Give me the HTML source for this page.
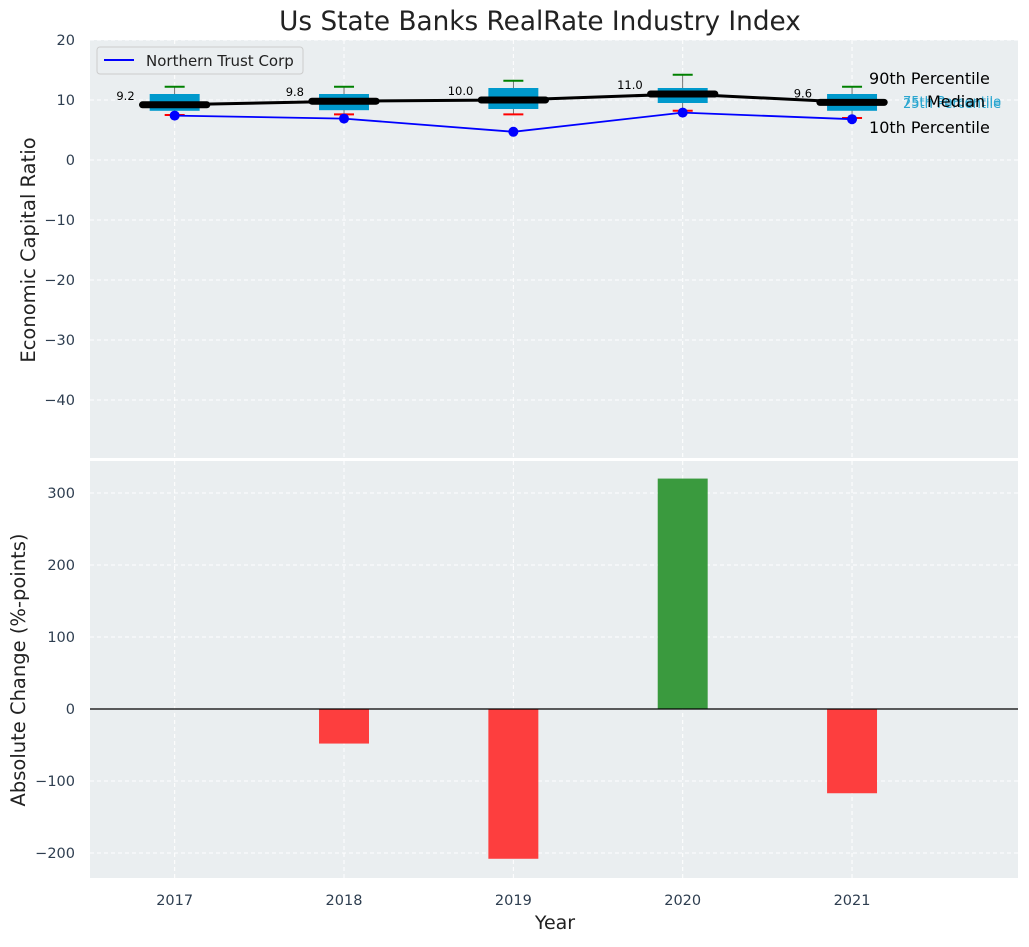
<!DOCTYPE html>
<html><head><meta charset="utf-8"><style>
body{margin:0;background:#fff;font-family:"Liberation Sans","DejaVu Sans",sans-serif}
svg text{font-family:"DejaVu Sans","Liberation Sans",sans-serif}
</style></head><body>
<svg id="c" width="1029" height="942" xmlns="http://www.w3.org/2000/svg"></svg>
<script>
const years=[2017,2018,2019,2020,2021];
const medians=[9.2,9.8,10.0,11.0,9.6];
const q1=[8.2,8.3,8.5,9.5,8.2];
const q3=[11,11,12,12,11];
const p10=[7.5,7.6,7.6,8.2,7.0];
const p90=[12.2,12.2,13.2,14.2,12.2];
const company=[7.4,6.9,4.7,7.9,6.8];
const changes=[0,-48,-208,320,-117];
const topTicks=[20,10,0,-10,-20,-30,-40];
const botTicks=[300,200,100,0,-100,-200];
const NS='http://www.w3.org/2000/svg';
const svg=document.getElementById('c');
function el(t,a,txt){const e=document.createElementNS(NS,t);for(const k in a)e.setAttribute(k,a[k]);if(txt!==undefined)e.textContent=txt;svg.appendChild(e);return e;}
const L=90,R=1018;
const x=v=>L+(v-2016.5)/(2021.98-2016.5)*(R-L);
const T0=40,T1=458,yT=v=>T0+(20-v)/(20+49.67)*(T1-T0);
const B0=461,B1=878,yB=v=>B0+(344.4-v)/(344.4+234.7)*(B1-B0);
let e=el('rect',{x:L,y:T0,width:R-L,height:T1-T0,fill:'#eaeef0'});

e=el('rect',{x:L,y:B0,width:R-L,height:B1-B0,fill:'#eaeef0'});

years.forEach(yr=>{el('line',{x1:x(yr),x2:x(yr),y1:T0,y2:T1,stroke:'#fff','stroke-dasharray':'4,3','stroke-width':1});el('line',{x1:x(yr),x2:x(yr),y1:B0,y2:B1,stroke:'#fff','stroke-dasharray':'4,3','stroke-width':1});
 e=el('text',{x:x(yr),y:905,'text-anchor':'middle','font-size':14.5,fill:'#2e3e50'},yr);
 });
topTicks.forEach(t=>{el('line',{x1:L,x2:R,y1:yT(t),y2:yT(t),stroke:'#fff','stroke-dasharray':'4,3'});
 e=el('text',{x:75,y:yT(t)+5,'text-anchor':'end','font-size':14.5,fill:'#2e3e50'},t<0?'\u2212'+(-t):t);
 });
botTicks.forEach(t=>{el('line',{x1:L,x2:R,y1:yB(t),y2:yB(t),stroke:'#fff','stroke-dasharray':'4,3'});
 e=el('text',{x:75,y:yB(t)+5,'text-anchor':'end','font-size':14.5,fill:'#2e3e50'},t<0?'\u2212'+(-t):t);
 });
const bw=0.295;
years.forEach((yr,i)=>{
 el('line',{x1:x(yr),x2:x(yr),y1:yT(p90[i]),y2:yT(p10[i]),stroke:'#555','stroke-width':0.8});
 e=el('rect',{x:x(yr-bw/2),y:yT(q3[i]),width:x(yr+bw/2)-x(yr-bw/2),height:yT(q1[i])-yT(q3[i]),fill:'#0099cc'});
 
 el('line',{x1:x(yr)-10,x2:x(yr)+10,y1:yT(p90[i]),y2:yT(p90[i]),stroke:'green','stroke-width':2});
 el('line',{x1:x(yr)-10,x2:x(yr)+10,y1:yT(p10[i]),y2:yT(p10[i]),stroke:'red','stroke-width':2});
});
el('polyline',{points:years.map((yr,i)=>x(yr)+','+yT(medians[i])).join(' '),fill:'none',stroke:'#000','stroke-width':3});
years.forEach((yr,i)=>{
 e=el('line',{x1:x(yr-0.19),x2:x(yr+0.19),y1:yT(medians[i]),y2:yT(medians[i]),stroke:'#000','stroke-width':7,'stroke-linecap':'round'});
 
 e=el('text',{x:x(yr)-40,y:yT(medians[i])-5,'text-anchor':'end','font-size':11.5,fill:'#000'},medians[i].toFixed(1));
 
});
el('polyline',{points:years.map((yr,i)=>x(yr)+','+yT(company[i])).join(' '),fill:'none',stroke:'blue','stroke-width':1.8});
years.forEach((yr,i)=>{e=el('circle',{cx:x(yr),cy:yT(company[i]),r:5,fill:'blue'});
 });
const lx=x(2021)+17;
[['90th Percentile',lx,84,16,'#000'],['10th Percentile',lx,133,16,'#000'],['75th Percentile',903,106,13,'#2aa6d0'],['25th Percentile',903,108,13,'#2aa6d0'],['Median',927,107,16,'#000']].forEach(a=>{
 e=el('text',{x:a[1],y:a[2],'font-size':a[3],fill:a[4]},a[0]);
 });
e=el('rect',{x:97,y:47,width:206,height:27,rx:3,fill:'#eaeef0',stroke:'#ccc'});

el('line',{x1:104,x2:134,y1:60,y2:60,stroke:'blue','stroke-width':2});
e=el('text',{x:146,y:66,'font-size':15,fill:'#222'},'Northern Trust Corp');

years.forEach((yr,i)=>{const v=changes[i];
 e=el('rect',{x:x(yr-bw/2),y:Math.min(yB(v),yB(0)),width:x(yr+bw/2)-x(yr-bw/2),height:Math.abs(yB(v)-yB(0)),fill:v>=0?'#3a9a3e':'#fd3e3e'});
 });
el('line',{x1:L,x2:R,y1:yB(0),y2:yB(0),stroke:'#000','stroke-width':1.2});
e=el('text',{x:540,y:30,'text-anchor':'middle','font-size':26.3,fill:'#222'},'Us State Banks RealRate Industry Index');

e=el('text',{x:555,y:929,'text-anchor':'middle','font-size':19,fill:'#222'},'Year');

e=el('text',{x:35,y:250,'text-anchor':'middle','font-size':19.5,fill:'#222',transform:'rotate(-90 35 250)'},'Economic Capital Ratio');

e=el('text',{x:25,y:670,'text-anchor':'middle','font-size':19.5,fill:'#222',transform:'rotate(-90 25 670)'},'Absolute Change (%-points)');

</script>
</body></html>
